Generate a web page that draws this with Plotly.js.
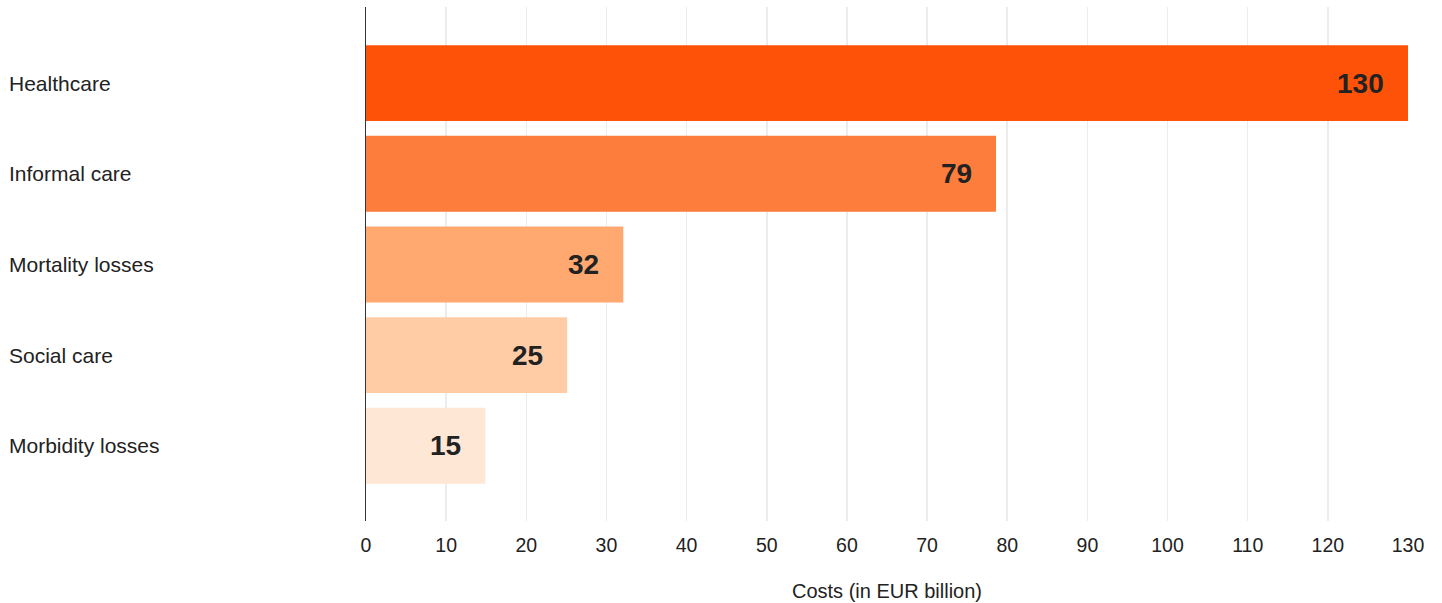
<!DOCTYPE html>
<html>
<head>
<meta charset="utf-8">
<script src="https://cdn.plot.ly/plotly-3.0.1.min.js"></script>
<style>html,body{margin:0;padding:0;background:#fff;}#chart{width:1442px;height:603px;}</style>
</head>
<body>
<div id="chart"></div>
<script>
const categories = ["Healthcare", "Informal care", "Mortality losses", "Social care", "Morbidity losses"];
const costs = [130, 78.6, 32.1, 25.1, 14.9];
const costLabels = ["130", "79", "32", "25", "15"];
const barColors = ["#fe5208", "#fd7d3c", "#ffa870", "#ffcca6", "#ffe7d6"];
const xTicks = [0, 10, 20, 30, 40, 50, 60, 70, 80, 90, 100, 110, 120, 130];

const FONT = "Liberation Sans, Arial, Helvetica, sans-serif";

const trace = {
  type: "bar",
  orientation: "h",
  y: categories,
  x: costs,
  marker: { color: barColors, line: { width: 0 } },
  hoverinfo: "none"
};

const annotations = [];
categories.forEach((c, i) => {
  annotations.push({
    xref: "paper", yref: "y", x: 0, y: c, xanchor: "left", yanchor: "middle",
    xshift: -359, text: c, showarrow: false,
    font: { family: FONT, size: 21, color: "#222" }
  });
  annotations.push({
    xref: "x", yref: "y", x: costs[i], y: c, xanchor: "right", yanchor: "middle",
    xshift: -22, text: "<b>" + costLabels[i] + "</b>", showarrow: false,
    font: { family: FONT, size: 28, color: "#222" }
  });
});

const layout = {
  width: 1442, height: 603,
  margin: { l: 366, r: 34, t: 7, b: 82 },
  paper_bgcolor: "#fff", plot_bgcolor: "#fff",
  bargap: 0.163,
  showlegend: false,
  font: { family: FONT, color: "#222" },
  xaxis: {
    range: [0, 130],
    tickvals: xTicks,
    ticktext: xTicks.map(String),
    showgrid: true, gridcolor: "#ececec", gridwidth: 1.5,
    zeroline: false, showline: false,
    ticks: "outside", ticklen: 7, tickcolor: "rgba(0,0,0,0)",
    tickfont: { family: FONT, size: 19.5, color: "#222" },
    title: { text: "Costs (in EUR billion)", font: { family: FONT, size: 20, color: "#222" }, standoff: 28 },
    fixedrange: true
  },
  yaxis: {
    type: "category",
    autorange: false,
    range: [4.83, -0.84],
    showticklabels: false,
    showgrid: false, zeroline: false,
    showline: true, linecolor: "#333", linewidth: 1.5,
    ticks: "",
    fixedrange: true
  },
  annotations: annotations
};

Plotly.newPlot("chart", [trace], layout, { displayModeBar: false, staticPlot: true });
</script>
</body>
</html>
